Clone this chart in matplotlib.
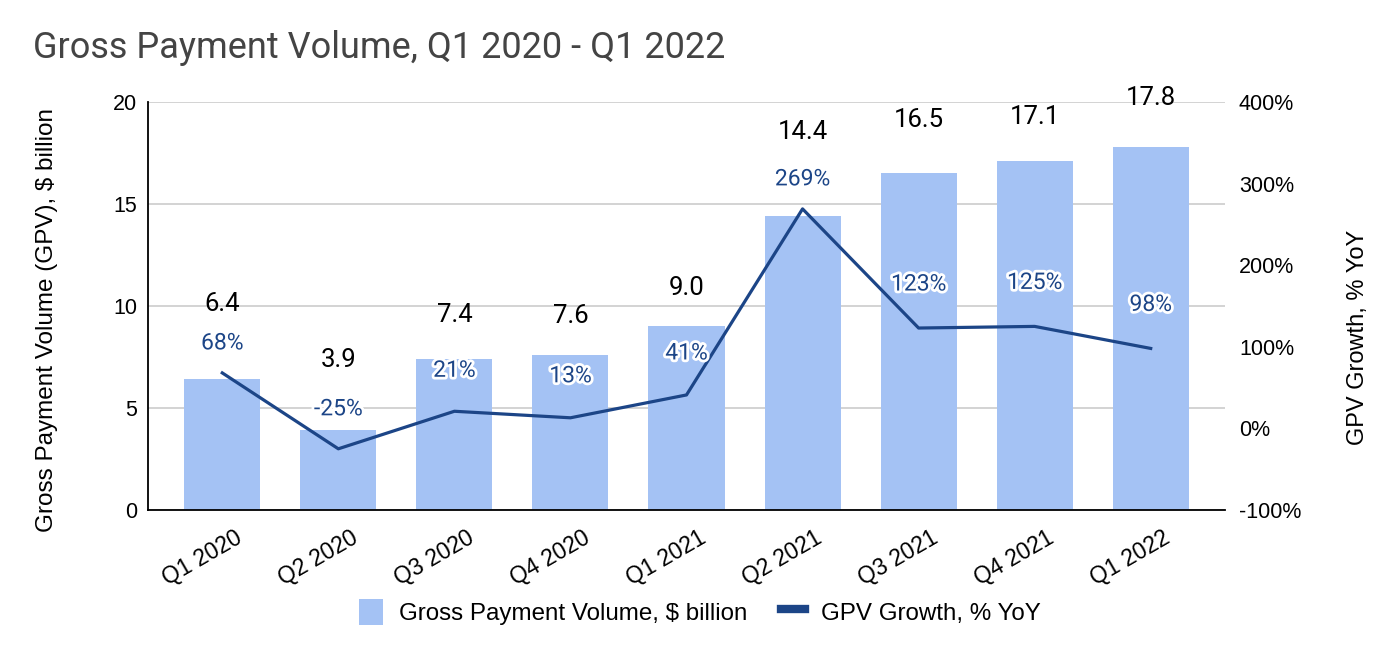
import matplotlib.pyplot as plt
import matplotlib.patheffects as pe
import matplotlib.transforms as mtransforms
from matplotlib.lines import Line2D
from matplotlib.patches import Patch
import numpy as np

plt.rcParams['font.family'] = ['Liberation Sans', 'DejaVu Sans']

quarters = ['Q1 2020', 'Q2 2020', 'Q3 2020', 'Q4 2020', 'Q1 2021',
            'Q2 2021', 'Q3 2021', 'Q4 2021', 'Q1 2022']
gpv = [6.4, 3.9, 7.4, 7.6, 9.0, 14.4, 16.5, 17.1, 17.8]
growth = [68, -25, 21, 13, 41, 269, 123, 125, 98]

# label offsets in pixels (as placed in the original)
gpv_off = [75, 70, 44, 39, 38, 84, 53, 44, 49]
growth_off = [30, 40, 41, 42, 42, 30, 44, 44, 44]

bar_color = '#a4c2f4'
line_color = '#1c4587'

fig = plt.figure(figsize=(14, 6.58), dpi=100)
ax = fig.add_axes([148 / 1400, 1 - 510 / 658, (1225 - 148) / 1400, (510 - 102) / 658])
ax2 = ax.twinx()

x = np.arange(len(quarters))
ax.bar(x, gpv, width=0.655, color=bar_color, zorder=2)
ax2.plot(x, growth, color=line_color, lw=2.3, zorder=3)

ax.set_xlim(-0.64, 8.64)
ax.set_ylim(0, 20)
ax.set_yticks([0, 5, 10, 15, 20])
ax2.set_ylim(-100, 400)
ax2.set_yticks([-100, 0, 100, 200, 300, 400])
ax2.set_yticklabels([f'{v}%' for v in [-100, 0, 100, 200, 300, 400]])

ax.grid(axis='y', color='#cccccc', lw=1.2, zorder=0)
ax.set_axisbelow(True)
for a in (ax, ax2):
    a.spines['top'].set_visible(False)
    a.spines['right'].set_visible(False)
    a.tick_params(length=0, labelsize=15.5, colors='#000000')
ax2.spines['left'].set_visible(False)
ax2.spines['bottom'].set_visible(False)
ax.spines['left'].set_linewidth(1.3)
ax.spines['bottom'].set_linewidth(1.3)
ax.tick_params(axis='y', pad=8)
ax2.tick_params(axis='y', pad=10)

ax.set_xticks(x)
ax.set_xticklabels(quarters, rotation=30, ha='right', va='top', rotation_mode='anchor',
                   fontsize=16.5)
ax.tick_params(axis='x', pad=12)
shift = mtransforms.ScaledTranslation(12 / 100, 0, fig.dpi_scale_trans)
for lab in ax.get_xticklabels():
    lab.set_transform(lab.get_transform() + shift)

ax.set_ylabel('Gross Payment Volume (GPV), $ billion', fontsize=17.5)
ax2.set_ylabel('GPV Growth, % YoY', fontsize=17)
ax.yaxis.set_label_coords(-0.084, 0.466)
ax2.yaxis.set_label_coords(1.1135, 0.424)

ax2.set_zorder(ax.get_zorder() + 1)
ax2.patch.set_visible(False)

for xi, v, off in zip(x, gpv, gpv_off):
    ax2.annotate(f'{v:.1f}', xy=(xi, (v / 20) * 500 - 100), xytext=(0, off),
                 textcoords='offset pixels', ha='center', va='center',
                 fontsize=18.5, family='Roboto', color='black', zorder=5)

for xi, v, off in zip(x, growth, growth_off):
    ax2.annotate(f'{v}%', xy=(xi, v), xytext=(0, off), textcoords='offset pixels',
                 ha='center', va='center', fontsize=16.5, family='Roboto',
                 color=line_color, zorder=6,
                 path_effects=[pe.withStroke(linewidth=4, foreground='white')])

fig.text(33 / 1400, 1 - 48 / 658, 'Gross Payment Volume, Q1 2020 - Q1 2022',
         fontsize=26, family='Roboto', color='#444444', va='center', ha='left')

handles = [Patch(facecolor=bar_color, edgecolor='none'),
           Line2D([0], [0], color=line_color, lw=6)]
labels = ['Gross Payment Volume, $ billion', 'GPV Growth, % YoY']
fig.legend(handles, labels, loc='center', bbox_to_anchor=(700 / 1400, 1 - 612 / 658),
           ncol=2, frameon=False, fontsize=17.4, handlelength=1.0, handleheight=1.3,
           columnspacing=1.4, handletextpad=0.65)

fig.savefig('out.png', dpi=100)
